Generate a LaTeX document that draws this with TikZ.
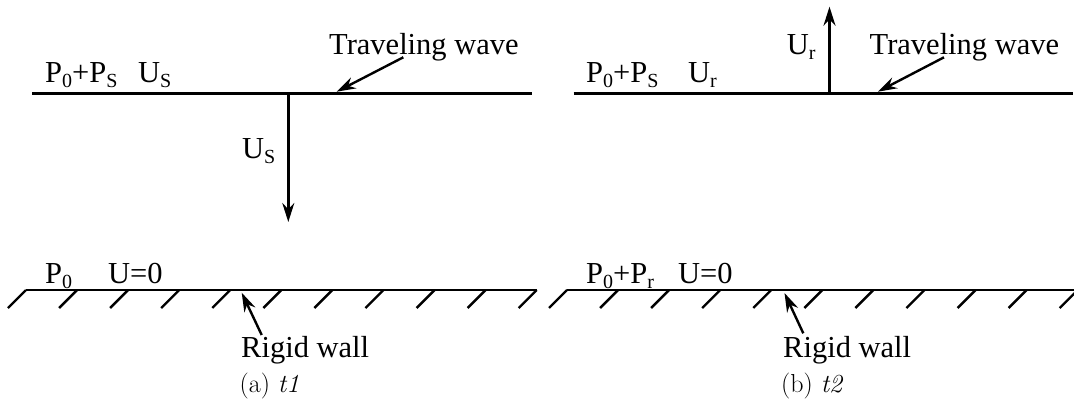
\documentclass[tikz,border=0pt]{standalone}
\usepackage{fontspec}
\newfontfamily\tms{Liberation Serif}
\usetikzlibrary{arrows.meta}
\newcommand{\sbs}[1]{\raisebox{-5pt}{\fontsize{20}{20}\selectfont #1}}
\begin{document}
\begin{tikzpicture}[x=1pt,y=-1pt,
  lbl/.style={font=\tms\fontsize{30.5}{32}\selectfont, inner sep=0pt, anchor=base west},
  captxt/.style={font=\fontsize{26}{28}\selectfont, inner sep=0pt, anchor=base west},
  wall/.style={line width=2.5pt},
  hatch/.style={line width=2.4pt},
  arr/.style={line width=2.4pt, -{Stealth[length=19pt,width=12pt]}}]
\useasboundingbox (0,0) rectangle (1074,404);

% ---------- left panel (a) ----------
\coordinate (LtL) at (32,93.3);
\coordinate (LtR) at (531.7,93.3);
\draw[wall] (LtL) -- (LtR);
\node[lbl] (Lp) at (45,83) {P\sbs{0}+P\sbs{S}};
\node[lbl] (Lu) at (138,83) {U\sbs{S}};
\coordinate (LvA) at (288.3,93.3);
\coordinate (LvB) at (288.3,222);
\draw[arr] (LvA) -- (LvB);
\node[lbl] (Lus) at (242,158) {U\sbs{S}};
\node[lbl] (Ltw) at (329,55) {Traveling wave};
\coordinate (LtwT) at (403.3,57.3);
\coordinate (LtwH) at (336.7,91.7);
\draw[arr] (LtwT) -- (LtwH);

\node[lbl] (Lp0) at (45,283) {P\sbs{0}};
\node[lbl] (Lu0) at (108,283) {U=0};
\coordinate (LgL) at (26,290);
\coordinate (LgR) at (537,290);
\draw[wall] (LgL) -- (LgR);
\foreach \i in {0,...,10} \draw[hatch] ({26+51.07*\i},290) -- ++(-18,18);
\node[lbl] (Lrw) at (241,357) {Rigid wall};
\coordinate (LrwT) at (261.7,335);
\coordinate (LrwH) at (241.7,292.7);
\draw[arr] (LrwT) -- (LrwH);
\node[captxt] (Lcap) at (239.5,392) {(a)\ \textit{t1}};

% ---------- right panel (b) ----------
\coordinate (RtL) at (573.5,93.3);
\coordinate (RtR) at (1072.5,93.3);
\draw[wall] (RtL) -- (RtR);
\node[lbl] (Rp) at (586,83) {P\sbs{0}+P\sbs{S}};
\node[lbl] (Ru) at (688,83) {U\sbs{r}};
\coordinate (RvA) at (829.5,93.3);
\coordinate (RvB) at (829.5,6.7);
\draw[arr] (RvA) -- (RvB);
\node[lbl] (Rur) at (786.7,55) {U\sbs{r}};
\node[lbl] (Rtw) at (869.5,55) {Traveling wave};
\coordinate (RtwT) at (944,57.3);
\coordinate (RtwH) at (877.9,91.7);
\draw[arr] (RtwT) -- (RtwH);

\node[lbl] (Rp0) at (586,283) {P\sbs{0}+P\sbs{r}};
\node[lbl] (Ru0) at (678,283) {U=0};
\coordinate (RgL) at (567,290);
\coordinate (RgR) at (1078,290);
\draw[wall] (RgL) -- (RgR);
\foreach \i in {0,...,10} \draw[hatch] ({567+51.07*\i},290) -- ++(-18,18);
\node[lbl] (Rrw) at (783,357) {Rigid wall};
\coordinate (RrwT) at (803.3,333.3);
\coordinate (RrwH) at (784.5,293);
\draw[arr] (RrwT) -- (RrwH);
\node[captxt] (Rcap) at (781,392) {(b)\ \textit{t2}};
\end{tikzpicture}
\end{document}
